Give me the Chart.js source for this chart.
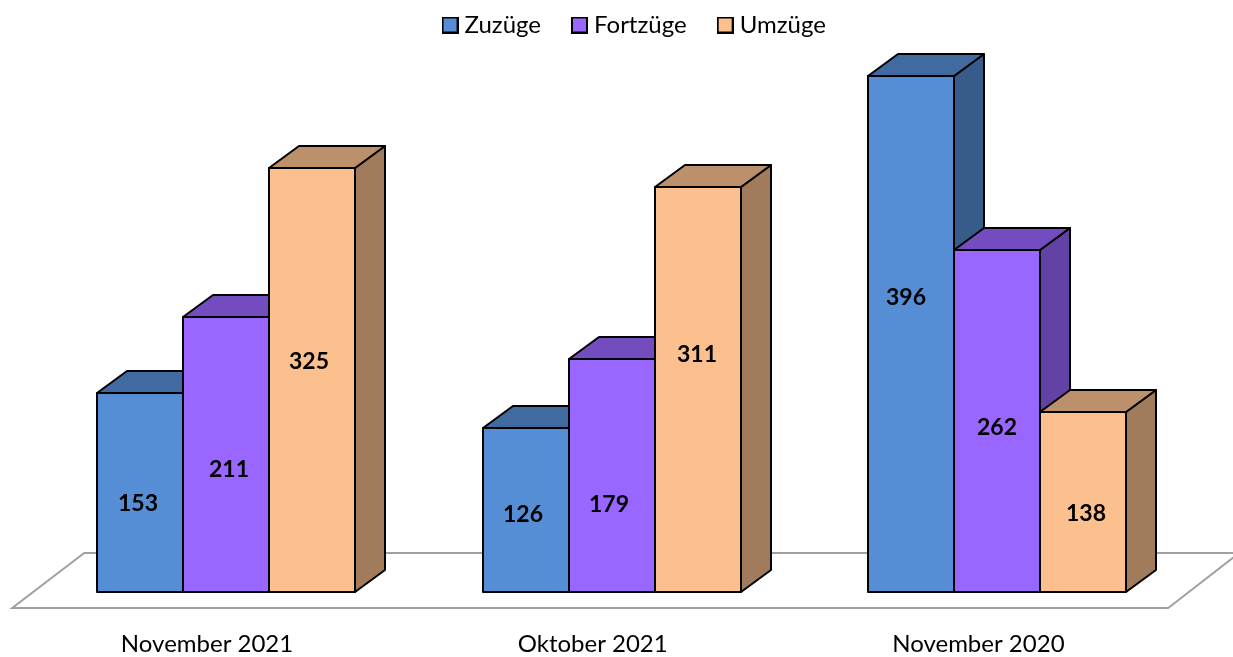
<!DOCTYPE html>
<html lang="de">
<head>
<meta charset="utf-8">
<title>Zuzüge, Fortzüge, Umzüge</title>
<script src="https://cdn.jsdelivr.net/npm/chart.js@4"></script>
<style>
  html, body { margin: 0; padding: 0; background: #fff; }
  canvas { display: block; }
</style>
</head>
<body>
<canvas id="chart" width="1233" height="657"></canvas>
<script>
/* ── Data ── */
const CATEGORIES = ['November 2021', 'Oktober 2021', 'November 2020'];
const ZUZUEGE    = [153, 126, 396];
const FORTZUEGE  = [211, 179, 262];
const UMZUEGE    = [325, 311, 138];

/* ── Colours: front, side, top ── */
const BLUE   = ['#558ed5', '#375c8a', '#406aa0'];
const PURPLE = ['#9966ff', '#6342a6', '#734cbf'];
const ORANGE = ['#fcc08f', '#a07c5c', '#bd906c'];

const FONT  = 'Lato, Carlito, sans-serif';
const DEPTH = { x: 30, y: 22 };

/* Labels sit by hand in the original, not at the bar centre: [series][category] */
const LABEL_DX = [[-2, -3, -5], [3, -3, 0], [-3, -1, 3]];
const LABEL_DY = [[11, 4.5, -36.5], [15, 29.5, 6.5], [-18.5, -34.5, 11.5]];

/* ── Legend swatch, wider than the layout box so the text sits close ── */
function swatch(fill) {
  const c = document.createElement('canvas');
  c.width = 17;
  c.height = 17;
  const g = c.getContext('2d');
  g.fillStyle = fill;
  g.fillRect(1, 1, 15, 15);
  g.strokeStyle = '#000';
  g.lineWidth = 2;
  g.strokeRect(1, 1, 15, 15);
  return c;
}

function face(ctx, pts, fill) {
  ctx.beginPath();
  pts.forEach((p, i) => (i ? ctx.lineTo(p[0], p[1]) : ctx.moveTo(p[0], p[1])));
  ctx.closePath();
  if (fill) {
    ctx.fillStyle = fill;
    ctx.fill();
  }
  ctx.stroke();
}

function barBox(bar) {
  const { x, y, base, width } = bar.getProps(['x', 'y', 'base', 'width']);
  return {
    l: Math.round(x - width / 2),
    r: Math.round(x + width / 2),
    t: Math.round(y),
    b: Math.round(base),
  };
}

/* ── Floor and 3D faces behind the fronts ── */
const depthPlugin = {
  id: 'depth',
  afterLayout(chart) {
    // legend is centred on the plot plus its depth in the original
    chart.legend.left += 25;
    chart.legend.right += 25;
  },
  beforeDatasetsDraw(chart) {
    const { ctx, chartArea: a } = chart;
    const floorY = Math.round(a.bottom);
    ctx.save();

    ctx.strokeStyle = '#a0a0a0';
    ctx.lineWidth = 2;
    ctx.lineJoin = 'miter';
    ctx.beginPath();
    ctx.moveTo(a.left + 51, floorY - 39);
    ctx.lineTo(a.left - 21, floorY + 16);
    ctx.lineTo(a.right - 22, floorY + 16);
    ctx.lineTo(a.right + 49, floorY - 39);
    ctx.closePath();
    ctx.stroke();

    ctx.strokeStyle = '#000';
    ctx.lineJoin = 'round';
    CATEGORIES.forEach((_, i) => {
      chart.data.datasets.forEach((ds, d) => {
        const { l, r, t, b } = barBox(chart.getDatasetMeta(d).data[i]);
        face(ctx, [[r, t], [r + DEPTH.x, t - DEPTH.y], [r + DEPTH.x, b - DEPTH.y], [r, b]], ds.sideColor);
        face(ctx, [[l, t], [l + DEPTH.x, t - DEPTH.y], [r + DEPTH.x, t - DEPTH.y], [r, t]], ds.topColor);
      });
    });
    ctx.restore();
  },
  afterDatasetsDraw(chart) {
    const { ctx } = chart;
    ctx.save();
    ctx.strokeStyle = '#000';
    ctx.lineWidth = 2;
    ctx.lineJoin = 'round';
    ctx.font = 'bold 23px ' + FONT;
    ctx.fillStyle = '#000';
    ctx.textAlign = 'center';
    ctx.textBaseline = 'middle';
    chart.data.datasets.forEach((ds, d) => {
      chart.getDatasetMeta(d).data.forEach((bar, i) => {
        const { l, r, t, b } = barBox(bar);
        face(ctx, [[l, t], [r, t], [r, b], [l, b]]);
        ctx.fillText(ds.data[i], (l + r) / 2 + LABEL_DX[d][i], (t + b) / 2 + LABEL_DY[d][i]);
      });
    });
    ctx.restore();
  },
};

function series(label, data, colors) {
  return {
    label,
    data,
    backgroundColor: colors[0],
    sideColor:       colors[1],
    topColor:        colors[2],
    borderWidth:     0,
  };
}

new Chart(document.getElementById('chart'), {
  type: 'bar',
  plugins: [depthPlugin],
  data: {
    labels: CATEGORIES,
    datasets: [
      series('Zuzüge', ZUZUEGE, BLUE),
      series('Fortzüge', FORTZUEGE, PURPLE),
      series('Umzüge', UMZUEGE, ORANGE),
    ],
  },
  options: {
    responsive:         false,
    animation:          false,
    barPercentage:      1,
    categoryPercentage: 0.669,
    layout: { padding: { top: -23, left: 33.2, right: 42.8, bottom: -1.8 } },
    plugins: {
      tooltip: { enabled: false },
      legend: {
        position: 'top',
        labels: {
          usePointStyle:   true,
          boxHeight:       9,
          pointStyleWidth: 5,
          padding:         36,
          color:           '#000',
          font:            { family: FONT, size: 24 },
          generateLabels:  chart => chart.data.datasets.map((ds, i) => ({
            text:         ds.label,
            pointStyle:   swatch(ds.backgroundColor),
            datasetIndex: i,
            fontColor:    '#000',
            lineWidth:    0,
            hidden:       false,
          })),
        },
      },
    },
    scales: {
      x: {
        grid:   { display: false, tickLength: 38 },
        border: { display: false },
        ticks: {
          color:       '#000',
          font:        { family: FONT, size: 24 },
          padding:     0,
          labelOffset: -19,
          maxRotation: 0,
        },
      },
      y: {
        display: false,
        min:     0,
        max:     418,
      },
    },
  },
});
</script>
</body>
</html>
